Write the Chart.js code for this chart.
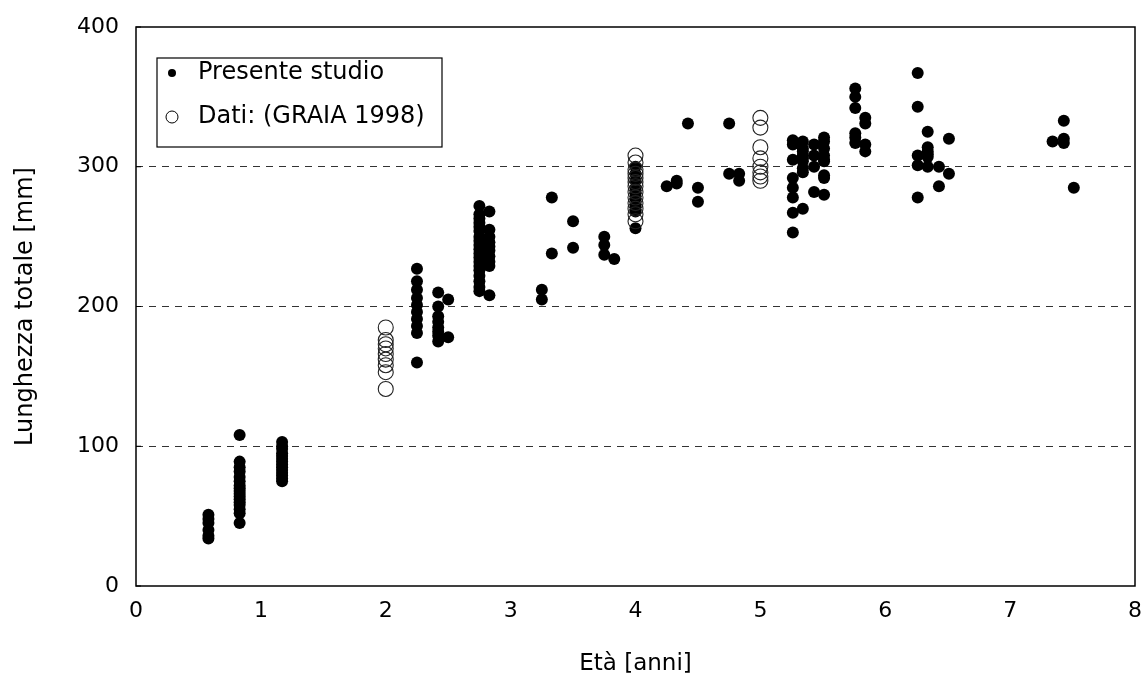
<!DOCTYPE html>
<html lang="it">
<head>
<meta charset="UTF-8">
<title>Lunghezza totale per età</title>
<script src="https://cdn.jsdelivr.net/npm/chart.js"></script>
<style>
  html, body { margin: 0; padding: 0; background: #fff; }
  #wrap { width: 1146px; height: 675px; }
</style>
</head>
<body>
<div id="wrap"><canvas id="chart" width="1146" height="675"></canvas></div>
<script>
// Presente studio: età (anni) e lunghezze (mm) per ogni classe
const presenteEta = [0.58, 0.83, 1.17, 2.25, 2.42, 2.5, 2.75, 2.83, 3.25, 3.33, 3.5, 3.75, 3.83,
  4.0, 4.25, 4.33, 4.42, 4.5, 4.75, 4.83, 5.26, 5.34, 5.43, 5.51, 5.76, 5.84,
  6.26, 6.34, 6.43, 6.51, 7.34, 7.43, 7.51];
const presenteLunghezza = [
  [51, 48, 45, 40, 36, 34],
  [108, 89, 85, 82, 78, 75, 72, 70, 68, 66, 64, 62, 60, 58, 55, 52, 45],
  [103, 100, 98, 95, 93, 91, 89, 87, 85, 83, 81, 79, 77, 75],
  [227, 218, 212, 206, 201, 196, 191, 186, 181, 160],
  [210, 200, 193, 189, 185, 182, 179, 175],
  [205, 178],
  [272, 266, 263, 260, 257, 254, 250, 247, 244, 241, 238, 235, 232, 229, 226, 222, 218, 214, 211],
  [268, 255, 250, 246, 243, 240, 236, 232, 229, 208],
  [212, 205],
  [278, 238],
  [261, 242],
  [250, 244, 237],
  [234],
  [300, 295, 290, 285, 281, 277, 272, 268, 256],
  [286],
  [290, 288],
  [331],
  [285, 275],
  [331, 295],
  [295, 290],
  [319, 316, 305, 292, 285, 278, 267, 253],
  [318, 313, 311, 308, 306, 304, 299, 296, 270],
  [316, 308, 300, 282],
  [321, 318, 313, 308, 305, 304, 294, 292, 280],
  [356, 350, 342, 324, 321, 317],
  [335, 331, 316, 311],
  [367, 343, 308, 301, 278],
  [325, 314, 311, 309, 307, 300],
  [300, 286],
  [320, 295],
  [318],
  [333, 320, 317],
  [285]
];

// Dati GRAIA 1998
const graiaEta = [2.0, 4.0, 5.0];
const graiaLunghezza = [
  [185, 176, 173, 170, 166, 162, 158, 153, 141],
  [308, 303, 298, 295, 292, 289, 286, 282, 278, 274, 270, 266, 261],
  [335, 328, 314, 306, 300, 296, 293, 290]
];

const xTicks = [0, 1, 2, 3, 4, 5, 6, 7, 8];
const yTicks = [0, 100, 200, 300, 400];
const dashedLevels = [100, 200, 300];

function toPoints(eta, lung) {
  const pts = [];
  eta.forEach((e, i) => lung[i].forEach(v => pts.push({ x: e, y: v })));
  return pts;
}

const FONT = "'DejaVu Sans', 'Liberation Sans', Arial, sans-serif";

// box around plot area + legend box inside it
const framePlugin = {
  id: 'frame',
  afterDraw(chart) {
    const { ctx, chartArea: a } = chart;
    ctx.save();
    ctx.strokeStyle = '#000';
    ctx.lineWidth = 1.5;
    ctx.strokeRect(a.left, a.top, a.right - a.left, a.bottom - a.top);

    // small inward ticks on y axis
    const ys = chart.scales.y;
    ctx.lineWidth = 1;
    yTicks.forEach(v => {
      const py = ys.getPixelForValue(v);
      ctx.beginPath();
      ctx.moveTo(a.left, py);
      ctx.lineTo(a.left + 5, py);
      ctx.stroke();
    });

    // legend
    const lx = a.left + 21, ly = a.top + 31, lw = 285, lh = 89;
    ctx.fillStyle = '#fff';
    ctx.fillRect(lx, ly, lw, lh);
    ctx.lineWidth = 1.2;
    ctx.strokeRect(lx, ly, lw, lh);
    ctx.font = '24px ' + FONT;
    ctx.textBaseline = 'middle';
    ctx.textAlign = 'left';
    const ds = chart.data.datasets;
    // filled
    ctx.fillStyle = '#000';
    ctx.beginPath();
    ctx.arc(lx + 15, ly + 15, 4, 0, Math.PI * 2);
    ctx.fill();
    ctx.fillText(ds[0].label, lx + 41, ly + 15);
    // open
    ctx.beginPath();
    ctx.arc(lx + 15, ly + 59, 6, 0, Math.PI * 2);
    ctx.lineWidth = 1;
    ctx.strokeStyle = '#000';
    ctx.stroke();
    ctx.fillText(ds[1].label, lx + 41, ly + 59);
    ctx.restore();
  }
};

new Chart(document.getElementById('chart').getContext('2d'), {
  type: 'scatter',
  data: {
    datasets: [
      {
        label: 'Presente studio',
        data: toPoints(presenteEta, presenteLunghezza),
        pointStyle: 'circle',
        pointRadius: 6,
        pointBackgroundColor: '#000',
        pointBorderColor: '#000',
        pointBorderWidth: 0,
        order: 1
      },
      {
        label: 'Dati: (GRAIA 1998)',
        data: toPoints(graiaEta, graiaLunghezza),
        pointStyle: 'circle',
        pointRadius: 7.5,
        pointBackgroundColor: 'rgba(255,255,255,0)',
        pointBorderColor: '#222',
        pointBorderWidth: 1.1,
        order: 0
      }
    ]
  },
  options: {
    responsive: false,
    animation: false,
    layout: { padding: { top: 27, right: 11, left: 0, bottom: 0 } },
    plugins: {
      legend: { display: false },
      tooltip: { enabled: false }
    },
    scales: {
      x: {
        type: 'linear',
        min: 0,
        max: 8,
        afterFit(s) { s.height = 89; s.paddingRight = 0; s.paddingLeft = 0; },
        afterBuildTicks(s) { s.ticks = xTicks.map(v => ({ value: v })); },
        grid: { display: false, drawTicks: false },
        border: { display: false },
        ticks: { color: '#000', padding: 12, font: { family: FONT, size: 22 } },
        title: {
          display: true,
          text: 'Età [anni]',
          color: '#000',
          font: { family: FONT, size: 23 },
          padding: { top: 17, bottom: -3 }
        }
      },
      y: {
        type: 'linear',
        min: 0,
        max: 400,
        afterFit(s) { s.width = 136; s.paddingTop = 0; s.paddingBottom = 0; },
        afterBuildTicks(s) { s.ticks = yTicks.map(v => ({ value: v })); },
        grid: {
          drawTicks: false,
          color: c => dashedLevels.includes(c.tick.value) ? '#333' : 'rgba(0,0,0,0)',
          lineWidth: 1
        },
        border: { display: false, dash: [7, 6] },
        ticks: { color: '#000', padding: 17, font: { family: FONT, size: 22 } },
        title: {
          display: true,
          text: 'Lunghezza totale [mm]',
          color: '#000',
          font: { family: FONT, size: 24 },
          padding: { top: 11, bottom: 18 }
        }
      }
    }
  },
  plugins: [framePlugin]
});
</script>
</body>
</html>
